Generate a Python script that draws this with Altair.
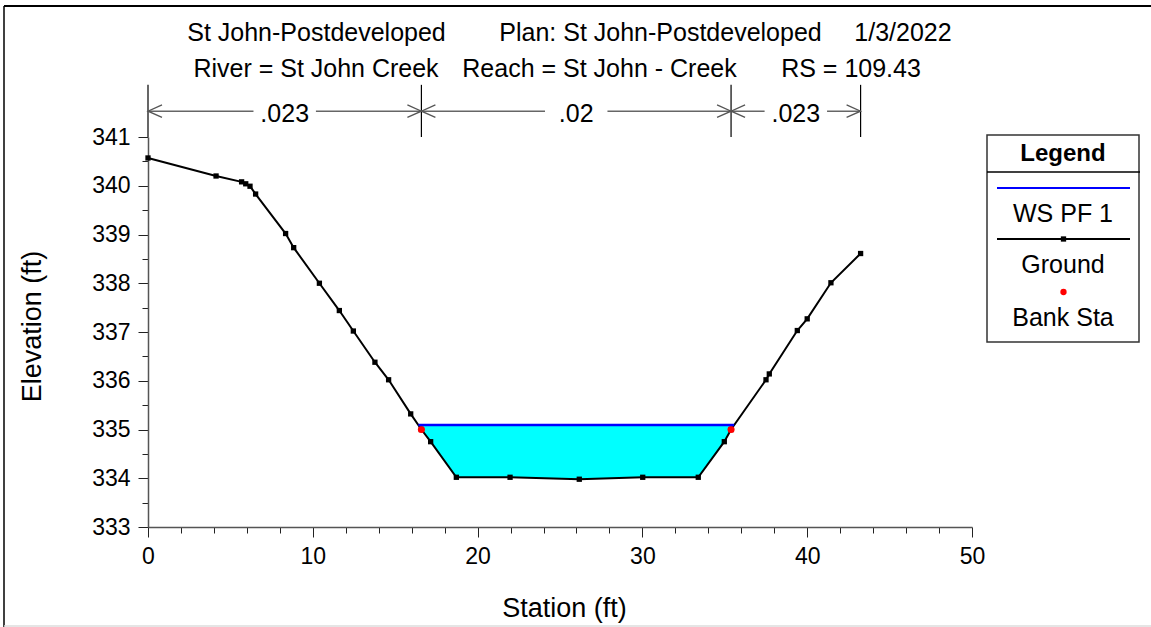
import altair as alt
import pandas as pd

# ---------------- data ----------------
station = [0.0, 4.13, 5.68, 5.93, 6.19, 6.53, 8.35, 8.84, 10.4, 11.61, 12.46,
           13.77, 14.6, 15.94, 16.59, 17.15, 18.71, 21.97, 26.17, 30.02, 33.39,
           34.97, 35.38, 37.5, 37.7, 39.4, 40.0, 41.44, 43.24]
elevation = [340.57, 340.2, 340.08, 340.04, 339.99, 339.83, 339.02, 338.73,
             338.0, 337.44, 337.02, 336.38, 336.02, 335.32, 335.0, 334.75,
             334.02, 334.02, 333.98, 334.02, 334.02, 334.75, 335.0, 336.02,
             336.14, 337.03, 337.27, 338.01, 338.61]
bank_station = [16.59, 35.38]
bank_elev = [335.0, 335.0]
ws_elev = 335.09
n_break_sta = [0.0, 16.59, 35.38, 43.24]
n_values = [".023", ".02", ".023"]
x_ticks = list(range(0, 51, 2))
y_ticks = [333 + 0.5 * k for k in range(17)]
title_line1 = ["St John-Postdeveloped", "Plan: St John-Postdeveloped", "1/3/2022"]
title_line2 = ["River = St John Creek", "Reach = St John - Creek", "RS = 109.43"]
legend_items = ["WS PF 1", "Ground", "Bank Sta"]

FONT = "Liberation Sans"

# ---------------- derived tables ----------------
ground = pd.DataFrame({"station": station, "elev": elevation})
banks = pd.DataFrame({"station": bank_station, "elev": bank_elev})

wet = [i for i, e in enumerate(elevation) if e <= ws_elev]
first, last = min(wet), max(wet)


def crossing(i0, i1):
    x0, y0, x1, y1 = station[i0], elevation[i0], station[i1], elevation[i1]
    t = (ws_elev - y0) / (y1 - y0)
    return x0 + t * (x1 - x0)


left_x = crossing(first - 1, first)
right_x = crossing(last, last + 1)
water = pd.DataFrame({
    "station": [left_x] + [station[i] for i in range(first, last + 1)] + [right_x],
    "elev": [ws_elev] + [elevation[i] for i in range(first, last + 1)] + [ws_elev],
})
water["ws"] = ws_elev
ws_line = pd.DataFrame({"station": [left_x, right_x], "elev": [ws_elev, ws_elev]})

n_top, n_bot, n_arrow = 342.07, 341.0, 341.53
n_lines = pd.DataFrame({"station": n_break_sta, "elev": n_bot, "top": n_top})
n_seg = pd.DataFrame({
    "station": n_break_sta[:-1],
    "end": n_break_sta[1:],
    "label": n_values,
})
n_seg["mid"] = (n_seg["station"] + n_seg["end"]) / 2
n_seg["elev"] = n_arrow

# ---------------- scales / axes ----------------
xscale = alt.Scale(domain=[0, 50], nice=False, zero=False)
yscale = alt.Scale(domain=[333, 341], nice=False, zero=False)

xaxis = alt.Axis(
    values=x_ticks,
    labelExpr="datum.value % 10 === 0 ? format(datum.value, 'd') : ''",
    tickSize={"condition": {"test": "datum.value % 10 === 0", "value": 10}, "value": 6},
    grid=False, domainColor="#555555", tickColor="#222222", domainWidth=1.5,
    labelFontSize=23, labelColor="black", labelPadding=8, labelFlush=False,
    labelOverlap=False, labelFont=FONT,
    title="Station (ft)", titleFontSize=27, titleFontWeight="normal", titleColor="black",
    titleFont=FONT, titleX=416, titleY=81, titleBaseline="middle", titleAlign="center",
)
yaxis = alt.Axis(
    values=y_ticks,
    labelExpr="datum.value % 1 === 0 ? format(datum.value, 'd') : ''",
    tickSize={"condition": {"test": "datum.value % 1 === 0", "value": 10}, "value": 6},
    grid=False, domainColor="#555555", tickColor="#222222", domainWidth=1.5,
    labelFontSize=23, labelColor="black", labelPadding=8, labelFlush=False,
    labelOverlap=False, labelFont=FONT,
    title="Elevation (ft)", titleFontSize=27, titleFontWeight="normal", titleColor="black",
    titleFont=FONT, titleX=-116, titleY=189, titleAngle=270, titleBaseline="middle",
    titleAlign="center",
)


def X(field):
    return alt.X(field, type="quantitative", scale=xscale, axis=xaxis)


def Y(field):
    return alt.Y(field, type="quantitative", scale=yscale, axis=yaxis)


# ---------------- layers ----------------
area = alt.Chart(water).mark_area(color="#00FFFF", opacity=1).encode(
    x=X("station"), y=Y("elev"), y2="ws:Q")

gline = alt.Chart(ground).mark_line(color="black", strokeWidth=2).encode(
    x=X("station"), y=Y("elev"))
gpts = alt.Chart(ground).mark_square(color="black", size=28, opacity=1).encode(
    x=X("station"), y=Y("elev"))
bpts = alt.Chart(banks).mark_circle(color="red", size=50, opacity=1).encode(
    x=X("station"), y=Y("elev"))
wsl = alt.Chart(ws_line).mark_line(color="#0000FF", strokeWidth=2.5).encode(
    x=X("station"), y=Y("elev"))

# Manning's n band
nvert = alt.Chart(n_lines).mark_rule(color="black", strokeWidth=1.2).encode(
    x=X("station"), y=Y("elev"), y2="top:Q")
narrow = alt.Chart(n_seg).mark_rule(color="#666666", strokeWidth=1.5).encode(
    x=X("station"), x2="end:Q", y=Y("elev"))
nbg = alt.Chart(n_seg).mark_point(
    shape="M-1,-0.42L1,-0.42L1,0.42L-1,0.42Z", size=3900, filled=True,
    fill="white", opacity=1, strokeWidth=0,
).encode(x=X("mid"), y=Y("elev"))
nleft = alt.Chart(n_seg).mark_point(
    shape="M1,-0.45L0,0L1,0.45", size=784, filled=False, color="#555555",
    strokeWidth=1.3, opacity=1,
).encode(x=X("station"), y=Y("elev"))
nright = alt.Chart(n_seg).mark_point(
    shape="M-1,-0.45L0,0L-1,0.45", size=784, filled=False, color="#555555",
    strokeWidth=1.3, opacity=1,
).encode(x=X("end"), y=Y("elev"))
ntext = alt.Chart(n_seg).mark_text(
    fontSize=25, font=FONT, color="black", baseline="middle", dy=3,
).encode(x=X("mid"), y=Y("elev"), text="label:N")

one = pd.DataFrame({"k": [0]})


def txt(s, x, y, size=25, weight="normal", align="center"):
    return alt.Chart(one).mark_text(
        fontSize=size, font=FONT, fontWeight=weight, color="black",
        align=align, baseline="middle",
    ).encode(x=alt.value(x), y=alt.value(y), text=alt.value(s))


def hrule(x1, x2, y, color="black", w=1.5):
    return alt.Chart(one).mark_rule(color=color, strokeWidth=w).encode(
        x=alt.value(x1), x2=alt.value(x2), y=alt.value(y))


def vrule(x, y1, y2, color="black", w=1.5):
    return alt.Chart(one).mark_rule(color=color, strokeWidth=w).encode(
        x=alt.value(x), y=alt.value(y1), y2=alt.value(y2))


# title texts (pixel positions relative to the plot origin)
titles = [
    txt(title_line1[0], 168.5, -104), txt(title_line1[1], 512.5, -104),
    txt(title_line1[2], 755, -104),
    txt(title_line2[0], 168, -68), txt(title_line2[1], 451.5, -68),
    txt(title_line2[2], 703, -68),
]

# legend box
legbox = alt.Chart(one).mark_rect(fill="white", stroke="#333333", strokeWidth=1.5).encode(
    x=alt.value(839), x2=alt.value(991), y=alt.value(-2), y2=alt.value(205))
legend = [
    legbox,
    hrule(839, 992, 35, "black", 1.5),
    txt("Legend", 915, 17, size=24, weight="bold"),
    hrule(849, 982, 51, "#0000FF", 2),
    txt(legend_items[0], 915, 77),
    hrule(849, 982, 102, "black", 2),
    alt.Chart(one).mark_square(color="black", size=28, opacity=1).encode(
        x=alt.value(915.5), y=alt.value(102)),
    txt(legend_items[1], 915, 128),
    alt.Chart(one).mark_circle(color="red", size=40, opacity=1).encode(
        x=alt.value(915.5), y=alt.value(155)),
    txt(legend_items[2], 915, 181),
]

# outer frame
frame = [
    vrule(-144, -131, 490, "black", 1.5),
    hrule(-144, 1003, -131, "black", 2),
    hrule(-144, 1003, 489, "#DDDDDD", 1.5),
]

chart = alt.layer(
    area, gline, gpts, bpts, wsl,
    nvert, narrow, nbg, nleft, nright, ntext,
    *titles, *legend, *frame,
).properties(
    width=824, height=390,
    padding={"left": 148, "top": 137, "right": 179, "bottom": 100},
    autosize=alt.AutoSizeParams(type="none"),
    background="white",
).configure(font=FONT).configure_view(stroke=None)

chart.save("out.html", embed_options={"renderer": "svg", "actions": False})
